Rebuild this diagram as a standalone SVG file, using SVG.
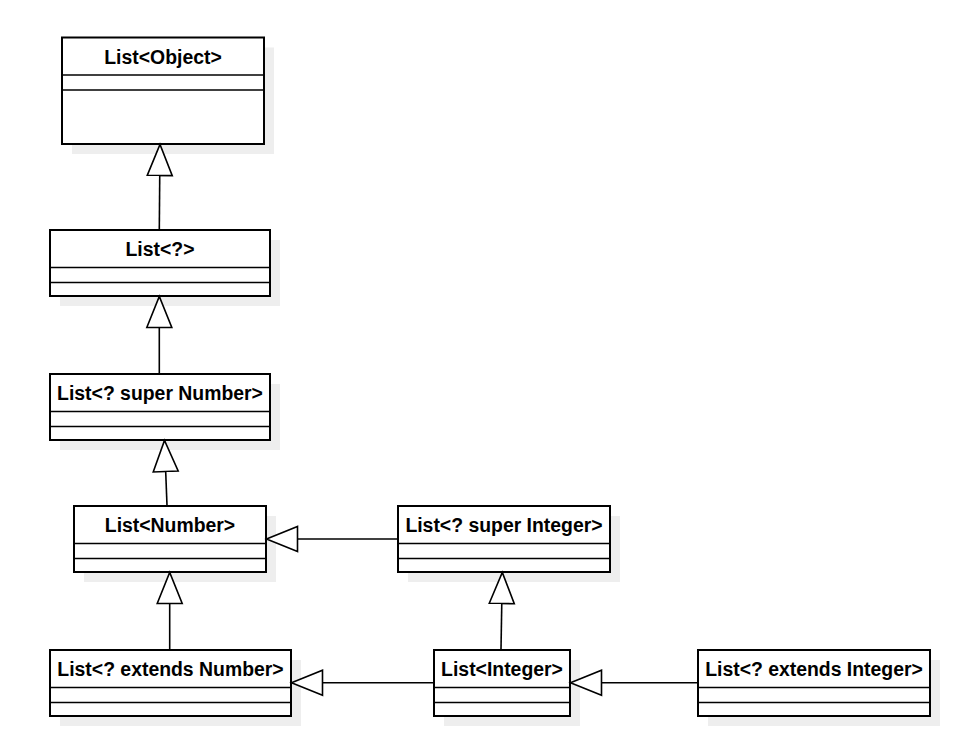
<svg xmlns="http://www.w3.org/2000/svg" width="954" height="753" viewBox="0 0 954 753">
<style>
.sh{fill:#eeeeee;stroke:none}
.bx{fill:#ffffff;stroke:#000000;stroke-width:2}
.dv{stroke:#000000;stroke-width:1.6;fill:none}
.t{font-family:"Liberation Sans",Arial,sans-serif;font-weight:bold;font-size:19.4px;fill:#000000;text-anchor:middle}
.c{stroke:#000000;stroke-width:1.6;fill:none;marker-end:url(#gen)}
</style>
<defs>
<marker id="gen" markerUnits="userSpaceOnUse" markerWidth="36" markerHeight="30" refX="32" refY="14.5" orient="auto" viewBox="0 0 36 30">
<path d="M1,2 L32,14.5 L1,27 Z" fill="#ffffff" stroke="#000000" stroke-width="1.6"/>
</marker>
</defs>
<rect width="954" height="753" fill="#ffffff"/>
<g id="n-object">
<rect class="sh" x="72" y="47.5" width="202" height="106.5"/>
<rect class="bx" x="62" y="37.5" width="202" height="106.5"/>
<line class="dv" x1="62" y1="75" x2="264" y2="75"/>
<line class="dv" x1="62" y1="90" x2="264" y2="90"/>
<text class="t" x="163" y="63.5">List&lt;Object&gt;</text>
</g>
<g id="n-wild">
<rect class="sh" x="60" y="240" width="220" height="66"/>
<rect class="bx" x="50" y="230" width="220" height="66"/>
<line class="dv" x1="50" y1="267.5" x2="270" y2="267.5"/>
<line class="dv" x1="50" y1="282.5" x2="270" y2="282.5"/>
<text class="t" x="160" y="256">List&lt;?&gt;</text>
</g>
<g id="n-super-number">
<rect class="sh" x="60" y="384" width="220" height="66"/>
<rect class="bx" x="50" y="374" width="220" height="66"/>
<line class="dv" x1="50" y1="411.5" x2="270" y2="411.5"/>
<line class="dv" x1="50" y1="426.5" x2="270" y2="426.5"/>
<text class="t" x="160" y="400">List&lt;? super Number&gt;</text>
</g>
<g id="n-number">
<rect class="sh" x="84" y="516" width="192" height="66"/>
<rect class="bx" x="74" y="506" width="192" height="66"/>
<line class="dv" x1="74" y1="543.5" x2="266" y2="543.5"/>
<line class="dv" x1="74" y1="558.5" x2="266" y2="558.5"/>
<text class="t" x="170" y="532">List&lt;Number&gt;</text>
</g>
<g id="n-super-integer">
<rect class="sh" x="408" y="516" width="212" height="66"/>
<rect class="bx" x="398" y="506" width="212" height="66"/>
<line class="dv" x1="398" y1="543.5" x2="610" y2="543.5"/>
<line class="dv" x1="398" y1="558.5" x2="610" y2="558.5"/>
<text class="t" x="504" y="532">List&lt;? super Integer&gt;</text>
</g>
<g id="n-extends-number">
<rect class="sh" x="60" y="660" width="241" height="66"/>
<rect class="bx" x="50" y="650" width="241" height="66"/>
<line class="dv" x1="50" y1="687.5" x2="291" y2="687.5"/>
<line class="dv" x1="50" y1="702.5" x2="291" y2="702.5"/>
<text class="t" x="170.5" y="676">List&lt;? extends Number&gt;</text>
</g>
<g id="n-integer">
<rect class="sh" x="444" y="660" width="136" height="66"/>
<rect class="bx" x="434" y="650" width="136" height="66"/>
<line class="dv" x1="434" y1="687.5" x2="570" y2="687.5"/>
<line class="dv" x1="434" y1="702.5" x2="570" y2="702.5"/>
<text class="t" x="502" y="676">List&lt;Integer&gt;</text>
</g>
<g id="n-extends-integer">
<rect class="sh" x="708" y="660" width="232" height="66"/>
<rect class="bx" x="698" y="650" width="232" height="66"/>
<line class="dv" x1="698" y1="687.5" x2="930" y2="687.5"/>
<line class="dv" x1="698" y1="702.5" x2="930" y2="702.5"/>
<text class="t" x="814" y="676">List&lt;? extends Integer&gt;</text>
</g>
<g id="connectors">
<path class="c" d="M159.3,229.5 L160,144.5"/>
<path class="c" d="M159.3,373.5 L159.3,296.5"/>
<path class="c" d="M167,505.5 L164.5,440.5"/>
<path class="c" d="M398,539 L266.5,539"/>
<path class="c" d="M169.7,649.5 L169.7,572.5"/>
<path class="c" d="M501,649.5 L502.3,572.5"/>
<path class="c" d="M434,682.7 L291.5,682.7"/>
<path class="c" d="M698,682.7 L570.5,682.7"/>
</g>
</svg>
